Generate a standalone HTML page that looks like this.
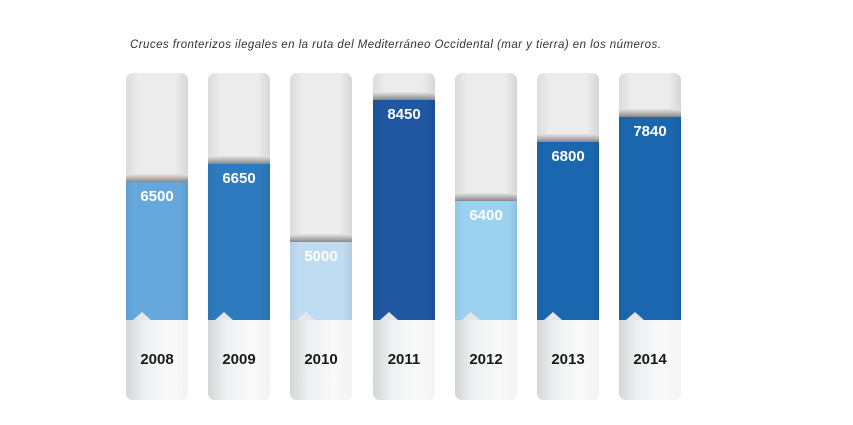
<!DOCTYPE html>
<html><head><style>
body{margin:0;width:853px;height:425px;background:#fff;position:relative;overflow:hidden;font-family:"Liberation Sans",sans-serif}
.t{position:absolute;left:130px;top:39px;font-size:11.5px;font-style:italic;color:#333;letter-spacing:0.45px}
.bar{position:absolute;top:73px;width:62px;height:327px;border-radius:7px;overflow:hidden;background:linear-gradient(90deg,#dcdcdc,#ececec 20%,#ececec 80%,#d6d6d6)}
.fill{position:absolute;left:0;right:0;bottom:80px}
.fill:before{content:"";position:absolute;left:0;right:0;top:-8px;height:8px;background:linear-gradient(#e6e6e6,#888)}
.fill:after{content:"";position:absolute;inset:0;background:linear-gradient(90deg,rgba(0,0,0,0.05),rgba(0,0,0,0) 15%,rgba(0,0,0,0) 85%,rgba(0,0,0,0.08))}
.v{position:absolute;left:0;right:0;top:6px;text-align:center;color:#fff;font-weight:bold;font-size:15px;z-index:2}
.bot{position:absolute;left:0;right:0;bottom:0;height:80px;background:linear-gradient(90deg,#d4d6d9,#eef0f1 30%,#fafafa 70%,#f3f3f3)}
.bot:before{content:"";position:absolute;left:7px;top:-8px;border-left:9px solid transparent;border-right:9px solid transparent;border-bottom:8px solid #e4e6e8}
.y{position:absolute;left:0;right:0;top:31px;text-align:center;font-weight:bold;font-size:15px;color:#1a1a1a}
</style></head><body>
<div class="t">Cruces fronterizos ilegales en la ruta del Mediterráneo Occidental (mar y tierra) en los números.</div>
<div class="bar" style="left:126px"><div class="fill" style="top:109px;background:#66a8dc"><div class="v">6500</div></div><div class="bot"><div class="y">2008</div></div></div>
<div class="bar" style="left:208px"><div class="fill" style="top:91px;background:#2e7abf"><div class="v">6650</div></div><div class="bot"><div class="y">2009</div></div></div>
<div class="bar" style="left:290px"><div class="fill" style="top:169px;background:#c0dcf3"><div class="v">5000</div></div><div class="bot"><div class="y">2010</div></div></div>
<div class="bar" style="left:373px"><div class="fill" style="top:27px;background:#1f57a0"><div class="v">8450</div></div><div class="bot"><div class="y">2011</div></div></div>
<div class="bar" style="left:455px"><div class="fill" style="top:128px;background:#9ad2f0"><div class="v">6400</div></div><div class="bot"><div class="y">2012</div></div></div>
<div class="bar" style="left:537px"><div class="fill" style="top:69px;background:#1a67b0"><div class="v">6800</div></div><div class="bot"><div class="y">2013</div></div></div>
<div class="bar" style="left:619px"><div class="fill" style="top:44px;background:#1a67b0"><div class="v">7840</div></div><div class="bot"><div class="y">2014</div></div></div>
</body></html>
